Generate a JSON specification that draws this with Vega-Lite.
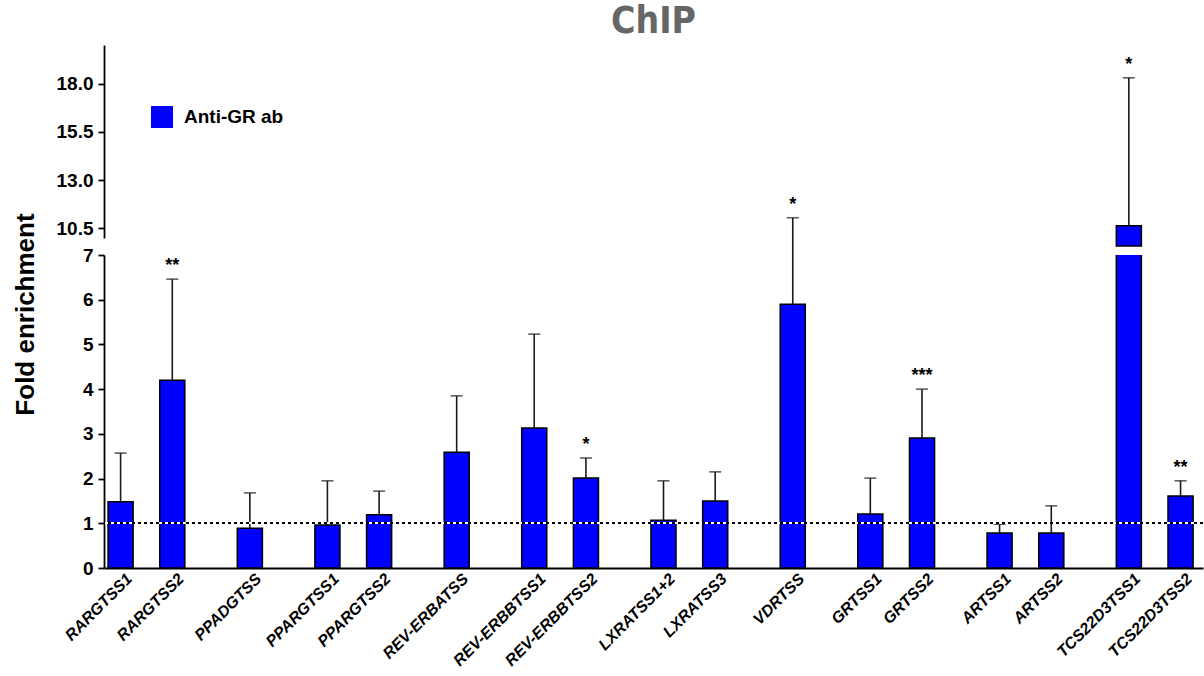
{
  "$schema": "https://vega.github.io/schema/vega-lite/v6.json",
  "background": "white",
  "padding": {"left": 12, "top": 3, "right": 0, "bottom": 0},
  "bounds": "flush",
  "config": {
    "font": "Liberation Sans",
    "view": {"stroke": null},
    "axis": {
      "domainColor": "#000000", "domainWidth": 1.8, "tickColor": "#000000", "tickWidth": 1.8, "tickSize": 6,
      "labelColor": "#000000", "labelFont": "Liberation Sans", "labelFontWeight": "bold", "labelFontSize": 19, "labelPadding": 5, "grid": false
    }
  },
  "datasets": {
    "chip": [
      {"gene": "RARGTSS1", "mean": 1.48, "upper": 2.57, "sig": ""},
      {"gene": "RARGTSS2", "mean": 4.2, "upper": 6.46, "sig": "**"},
      {"gene": "PPADGTSS", "mean": 0.89, "upper": 1.68, "sig": ""},
      {"gene": "PPARGTSS1", "mean": 0.96, "upper": 1.95, "sig": ""},
      {"gene": "PPARGTSS2", "mean": 1.19, "upper": 1.72, "sig": ""},
      {"gene": "REV-ERBATSS", "mean": 2.59, "upper": 3.85, "sig": ""},
      {"gene": "REV-ERBBTSS1", "mean": 3.13, "upper": 5.23, "sig": ""},
      {"gene": "REV-ERBBTSS2", "mean": 2.01, "upper": 2.46, "sig": "*"},
      {"gene": "LXRATSS1+2", "mean": 1.07, "upper": 1.95, "sig": ""},
      {"gene": "LXRATSS3", "mean": 1.5, "upper": 2.15, "sig": ""},
      {"gene": "VDRTSS", "mean": 5.9, "upper": 11.05, "sig": "*"},
      {"gene": "GRTSS1", "mean": 1.21, "upper": 2.01, "sig": ""},
      {"gene": "GRTSS2", "mean": 2.91, "upper": 4.0, "sig": "***"},
      {"gene": "ARTSS1", "mean": 0.78, "upper": 0.98, "sig": ""},
      {"gene": "ARTSS2", "mean": 0.78, "upper": 1.39, "sig": ""},
      {"gene": "TCS22D3TSS1", "mean": 10.63, "upper": 18.3, "sig": "*"},
      {"gene": "TCS22D3TSS2", "mean": 1.61, "upper": 1.95, "sig": "**"}
    ]
  },
  "spacing": 17,
  "resolve": {"scale": {"y": "independent", "x": "independent"}, "legend": {"color": "independent"}},
  "vconcat": [
    {
      "width": 1099,
      "height": 193,
      "data": {"name": "chip"},
      "title": {"text": "ChIP", "fontSize": 37, "font": "Liberation Sans Narrow, DejaVu Sans Condensed, Liberation Sans, sans-serif", "fontWeight": "bold", "color": "#666666", "anchor": "middle", "offset": 4},
      "encoding": {
        "x": {
          "field": "gene", "type": "nominal", "sort": null, "axis": null,
          "scale": {"type": "band", "paddingInner": 0.03, "paddingOuter": 0.27, "align": 0.29,
            "domain": ["RARGTSS1","_a","RARGTSS2","_b","_c","PPADGTSS","_d","_e","PPARGTSS1","_f","PPARGTSS2","_g","_h","REV-ERBATSS","_i","_j","REV-ERBBTSS1","_k","REV-ERBBTSS2","_l","_m","LXRATSS1+2","_n","LXRATSS3","_o","_p","VDRTSS","_q","_r","GRTSS1","_s","GRTSS2","_t","_u","ARTSS1","_v","ARTSS2","_w","_x","TCS22D3TSS1","_y","TCS22D3TSS2"]}
        }
      },
      "layer": [
        {
          "transform": [{"filter": "datum.upper > 10 && datum.mean < 7"}],
          "mark": {"type": "rule", "color": "#1a1a1a", "strokeWidth": 1.6, "clip": false},
          "encoding": {
            "y": {"field": "upper", "type": "quantitative", "scale": {"domain": [10, 20], "nice": false, "zero": false},
              "axis": {"values": [10.5, 13, 15.5, 18], "format": ".1f", "title": null}},
            "y2": {"datum": 9.1}
          }
        },
        {
          "transform": [{"filter": "datum.mean > 10"}],
          "mark": {"type": "rule", "color": "#1a1a1a", "strokeWidth": 1.6, "clip": false},
          "encoding": {
            "y": {"field": "upper", "type": "quantitative"},
            "y2": {"field": "mean"}
          }
        },
        {
          "transform": [{"filter": "datum.mean > 10"}],
          "mark": {"type": "bar", "stroke": "#000000", "strokeWidth": 1.5, "clip": false},
          "encoding": {
            "y": {"field": "mean", "type": "quantitative"},
            "y2": {"datum": 9.58},
            "color": {"datum": "Anti-GR ab", "type": "nominal",
              "scale": {"range": ["#0000FF"]},
              "legend": {"title": null, "orient": "none", "legendX": 47, "legendY": 61, "symbolType": "square", "symbolSize": 484,
                "symbolStrokeWidth": 0, "labelFontSize": 19, "labelFontWeight": "bold", "labelColor": "#000000", "labelOffset": 11, "labelFont": "Liberation Sans"}}
          }
        },
        {
          "transform": [{"filter": "datum.upper > 10"}],
          "mark": {"type": "tick", "color": "#1a1a1a", "size": 12, "thickness": 1.6},
          "encoding": {"y": {"field": "upper", "type": "quantitative"}}
        },
        {
          "transform": [{"filter": "datum.upper > 10 && datum.sig != ''"}],
          "mark": {"type": "text", "fontSize": 18, "fontWeight": "bold", "baseline": "alphabetic", "dy": -8, "color": "#000000"},
          "encoding": {"y": {"field": "upper", "type": "quantitative"}, "text": {"field": "sig"}}
        }
      ]
    },
    {
      "width": 1099,
      "height": 313,
      "data": {"name": "chip"},
      "layer": [
        {
          "mark": {"type": "bar", "fill": "#0000FF", "stroke": "#000000", "strokeWidth": 1.5, "clip": true},
          "encoding": {
            "x": {
              "field": "gene", "type": "nominal", "sort": null,
              "scale": {"type": "band", "paddingInner": 0.03, "paddingOuter": 0.27, "align": 0.29,
                "domain": ["RARGTSS1","_a","RARGTSS2","_b","_c","PPADGTSS","_d","_e","PPARGTSS1","_f","PPARGTSS2","_g","_h","REV-ERBATSS","_i","_j","REV-ERBBTSS1","_k","REV-ERBBTSS2","_l","_m","LXRATSS1+2","_n","LXRATSS3","_o","_p","VDRTSS","_q","_r","GRTSS1","_s","GRTSS2","_t","_u","ARTSS1","_v","ARTSS2","_w","_x","TCS22D3TSS1","_y","TCS22D3TSS2"]},
              "axis": {"title": null, "ticks": false, "labelAngle": -45, "labelAlign": "right", "labelBaseline": "middle",
                "labelFontStyle": "italic", "labelFontSize": 16, "labelPadding": 8, "labelOffset": 9,
                "labelExpr": "indexof(datum.value, '_') == 0 ? '' : datum.value"}
            },
            "y": {"field": "mean", "type": "quantitative", "scale": {"domain": [0, 7], "nice": false},
              "axis": {"values": [0, 1, 2, 3, 4, 5, 6, 7], "title": "Fold enrichment", "titleFontSize": 26, "titleFontWeight": "bold",
                "titleColor": "#000000", "titleAngle": 270, "titleAlign": "center", "titleBaseline": "middle", "titleX": -79, "titleY": 59}}
          }
        },
        {
          "transform": [{"filter": "datum.mean < 7"}],
          "mark": {"type": "rule", "color": "#1a1a1a", "strokeWidth": 1.6, "clip": true},
          "encoding": {"x": {"field": "gene", "type": "nominal"}, "y": {"field": "mean", "type": "quantitative"}, "y2": {"field": "upper"}}
        },
        {
          "transform": [{"filter": "datum.upper < 7"}],
          "mark": {"type": "tick", "color": "#1a1a1a", "size": 12, "thickness": 1.6},
          "encoding": {"x": {"field": "gene", "type": "nominal"}, "y": {"field": "upper", "type": "quantitative"}}
        },
        {
          "mark": {"type": "rule", "color": "#ffffff", "strokeWidth": 1.5},
          "encoding": {"y": {"datum": 1}}
        },
        {
          "mark": {"type": "rule", "color": "#000000", "strokeWidth": 1.5, "strokeDash": [3, 3]},
          "encoding": {"y": {"datum": 1}}
        },
        {
          "transform": [{"filter": "datum.upper < 7 && datum.sig != ''"}],
          "mark": {"type": "text", "fontSize": 18, "fontWeight": "bold", "baseline": "alphabetic", "dy": -8, "color": "#000000"},
          "encoding": {"x": {"field": "gene", "type": "nominal"}, "y": {"field": "upper", "type": "quantitative"}, "text": {"field": "sig"}}
        }
      ]
    }
  ]
}
